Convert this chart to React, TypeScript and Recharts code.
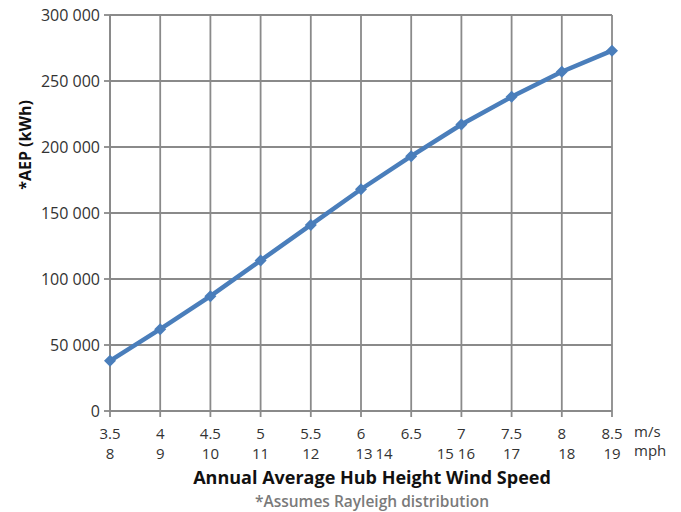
import { CartesianGrid, Line, LineChart, XAxis, YAxis } from "recharts";

// wind speed (m/s) and annual energy production (kWh)
const speedMs = [3.5, 4, 4.5, 5, 5.5, 6, 6.5, 7, 7.5, 8, 8.5];
const aep = [38000, 62000, 87000, 114000, 141000, 168000, 193000, 217000, 238000, 257000, 273000];

const yTicks = [0, 50000, 100000, 150000, 200000, 250000, 300000];

// mph labels, placed at the m/s value they sit under in the picture
const mphLabels = ["8", "9", "10", "11", "12", "13", "14", "15", "16", "17", "18", "19"];
const mphAt = [3.5, 4, 4.5, 5, 5.5, 6.03, 6.23, 6.84, 7.05, 7.5, 8.05, 8.5];

const data = speedMs.map((ms, i) => ({ ms, aep: aep[i] }));

const FONT = "'Open Sans', sans-serif";
const BLUE = "#4a7ebb";
const GRID = "#8a8a8a";

const fmt = (v: number) => String(v).replace(/\B(?=(\d{3})+(?!\d))/g, " ");

function Diamond(props: any) {
	const { cx, cy } = props;
	if (cx == null || cy == null) return null;
	const r = 6;
	return (
		<path
			d={`M${cx},${cy - r}L${cx + r},${cy}L${cx},${cy + r}L${cx - r},${cy}Z`}
			fill={BLUE}
		/>
	);
}

export default function App() {
	const tick = { fill: "#333", fontSize: 15, fontFamily: FONT };
	return (
		<div
			style={{
				position: "absolute",
				left: 0,
				top: 0,
				width: 681,
				height: 512,
				background: "#fff",
				fontFamily: FONT,
			}}
		>
			<LineChart
				width={681}
				height={512}
				data={data}
				margin={{ top: 15, right: 69, bottom: 57, left: 0 }}
			>
				<CartesianGrid xAxisId={0} stroke={GRID} strokeWidth={1.8} />
				<XAxis
					xAxisId={0}
					dataKey="ms"
					type="number"
					domain={[3.5, 8.5]}
					ticks={speedMs}
					interval={0}
					height={24}
					stroke={GRID}
					strokeWidth={1.8}
					tickSize={6}
					tickMargin={11}
					tick={tick}
				/>
				<XAxis
					xAxisId={1}
					dataKey="ms"
					type="number"
					domain={[3.5, 8.5]}
					ticks={mphAt}
					interval={0}
					height={20}
					axisLine={false}
					tickLine={false}
					tickSize={0}
					tickMargin={13}
					tick={tick}
					tickFormatter={(_v: number, i: number) => mphLabels[i]}
				/>
				<YAxis
					domain={[0, 300000]}
					ticks={yTicks}
					interval={0}
					width={110}
					stroke={GRID}
					strokeWidth={1.8}
					tickSize={6}
					tickMargin={4}
					tick={{ ...tick, fontSize: 16 }}
					tickFormatter={fmt}
				/>
				<Line
					xAxisId={0}
					type="linear"
					dataKey="aep"
					stroke={BLUE}
					strokeWidth={4.5}
					dot={<Diamond />}
					activeDot={false}
					isAnimationActive={false}
				/>
			</LineChart>
			<div
				style={{
					position: "absolute",
					left: 634,
					top: 422,
					fontSize: 15,
					lineHeight: "19px",
					color: "#333",
				}}
			>
				m/s
				<br />
				mph
			</div>
			<div
				style={{
					position: "absolute",
					left: 25,
					top: 145,
					transform: "translate(-50%, -50%) rotate(-90deg)",
					fontSize: 16,
					fontWeight: 700,
					color: "#111",
					whiteSpace: "nowrap",
				}}
			>
				*AEP (kWh)
			</div>
			<div
				style={{
					position: "absolute",
					left: 372,
					top: 465,
					transform: "translateX(-50%)",
					fontSize: 18,
					fontWeight: 700,
					color: "#111",
					whiteSpace: "nowrap",
				}}
			>
				Annual Average Hub Height Wind Speed
			</div>
			<div
				style={{
					position: "absolute",
					left: 372,
					top: 490,
					transform: "translateX(-50%)",
					fontSize: 15.5,
					fontWeight: 600,
					color: "#7a7a7a",
					whiteSpace: "nowrap",
				}}
			>
				*Assumes Rayleigh distribution
			</div>
		</div>
	);
}
